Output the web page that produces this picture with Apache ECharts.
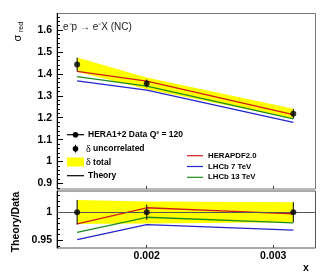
<!DOCTYPE html>
<html><head><meta charset="utf-8">
<script src="https://cdn.jsdelivr.net/npm/echarts@6/dist/echarts.min.js"></script>
<style>html,body{margin:0;padding:0;background:#fff}#c{width:332px;height:276px}</style>
</head><body><div id="c"></div>
<script>
// ---- data ----
const xValues = [0.0016, 0.002, 0.0032];
const dataSigma = [1.443, 1.356, 1.218];
const uncorrLow = [1.411, 1.338, 1.196];
const uncorrHigh = [1.474, 1.374, 1.240];
const totalLow = [1.410, 1.330, 1.196];
const totalHigh = [1.474, 1.383, 1.241];
const herapdf = [1.411, 1.367, 1.214];
const lhcb7 = [1.368, 1.326, 1.179];
const lhcb13 = [1.387, 1.344, 1.195];

const ratioData = [1, 1, 1];
const ratioUncLow = [0.978, 0.9865, 0.982];
const ratioUncHigh = [1.022, 1.0135, 1.018];
const ratioTotLow = [0.979, 0.980, 0.982];
const ratioTotHigh = [1.022, 1.019, 1.018];
const ratioHerapdf = [0.979, 1.008, 0.997];
const ratioLhcb7 = [0.951, 0.978, 0.968];
const ratioLhcb13 = [0.964, 0.991, 0.981];

const xTicks = [0.002, 0.003];
const xTickLabels = ['0.002', '0.003'];
const topTicks = [0.9, 1, 1.1, 1.2, 1.3, 1.4, 1.5, 1.6];
const topMinor = [0.88,0.9,0.92,0.94,0.96,0.98,1,1.02,1.04,1.06,1.08,1.1,1.12,1.14,1.16,1.18,1.2,1.22,1.24,1.26,1.28,1.3,1.32,1.34,1.36,1.38,1.4,1.42,1.44,1.46,1.48,1.5,1.52,1.54,1.56,1.58,1.6,1.62,1.64,1.66];
const ratioTicks = [0.95, 1];
const ratioMinor = [0.94,0.95,0.96,0.97,0.98,0.99,1,1.01,1.02,1.03];

// ---- helpers ----
const lx = xValues.map(v => Math.log10(v));
const lxTicks = xTicks.map(v => Math.log10(v));
const FONT = 'Liberation Sans, Arial, sans-serif';
const RED = '#d01c1c', BLUE = '#2424cc', GREEN = '#1e8c1e', YEL = '#ffff00';

function pairs(ys) { return lx.map((x, i) => [x, ys[i]]); }
function band(low, high, xi, yi) {
  return {
    type: 'custom', xAxisIndex: xi, yAxisIndex: yi, silent: true, z: 1,
    data: lx.map((x, i) => [x, low[i], high[i]]),
    encode: { x: 0, y: [1, 2] },
    renderItem: function (params, api) {
      if (params.dataIndex !== 0) return;
      const pts = [];
      for (let i = 0; i < lx.length; i++) pts.push(api.coord([lx[i], high[i]]));
      for (let i = lx.length - 1; i >= 0; i--) pts.push(api.coord([lx[i], low[i]]));
      return { type: 'polygon', shape: { points: pts }, style: { fill: YEL } };
    }
  };
}
function errBars(low, high, xi, yi) {
  return {
    type: 'custom', xAxisIndex: xi, yAxisIndex: yi, silent: true, z: 5,
    data: lx.map((x, i) => [x, low[i], high[i]]),
    encode: { x: 0, y: [1, 2] },
    renderItem: function (params, api) {
      const a = api.coord([api.value(0), api.value(1)]);
      const b = api.coord([api.value(0), api.value(2)]);
      return { type: 'line', shape: { x1: a[0], y1: a[1], x2: b[0], y2: b[1] }, style: { stroke: '#000', lineWidth: 1 } };
    }
  };
}
function theory(ys, color, xi, yi) {
  return { type: 'line', xAxisIndex: xi, yAxisIndex: yi, data: pairs(ys), symbol: 'none', silent: true, z: 3,
    lineStyle: { color: color, width: 1.3 } };
}
function pts(ys, xi, yi) {
  return { type: 'scatter', xAxisIndex: xi, yAxisIndex: yi, data: pairs(ys), symbolSize: 6, silent: true, z: 6,
    itemStyle: { color: '#000' } };
}

const xMin = Math.log10(0.0015), xMax = Math.log10(0.003436);
function xAxis(grid, labels) {
  return {
    type: 'value', gridIndex: grid, min: xMin, max: xMax,
    axisLine: { show: false }, splitLine: { show: false },
    axisTick: { show: true, inside: true, length: 3, customValues: lxTicks, lineStyle: { color: '#444' } },
    axisLabel: { show: labels, customValues: lxTicks, margin: 3, color: '#000', fontFamily: FONT, fontWeight: 'bold', fontSize: 10.5,
      formatter: function (v) { let k = 0; lxTicks.forEach((t, i) => { if (Math.abs(t - v) < Math.abs(lxTicks[k] - v)) k = i; }); return xTickLabels[k]; } }
  };
}
function yAxis(grid, min, max, major, labels) {
  return {
    type: 'value', gridIndex: grid, min: min, max: max,
    axisLine: { show: true, lineStyle: { color: '#000', width: 1 } }, splitLine: { show: false },
    axisTick: { show: true, inside: true, length: 6, customValues: major, lineStyle: { color: '#000' } },
    axisLabel: { show: labels, customValues: major, margin: 5, color: '#000', fontFamily: FONT, fontWeight: 'bold', fontSize: 10.5,
      formatter: v => String(+v.toFixed(2)) }
  };
}
function yMinor(grid, min, max, minor) {
  return {
    type: 'value', gridIndex: grid, min: min, max: max, position: 'left',
    axisLine: { show: false }, splitLine: { show: false }, axisLabel: { show: false },
    axisTick: { show: true, inside: true, length: 3, customValues: minor, lineStyle: { color: '#000' } }
  };
}

function txt(x, y, t, font, extra) {
  const el = { type: 'text', x: x, y: y, silent: true,
    style: { text: t, fill: '#000', font: font || ('bold 8.5px ' + FONT), verticalAlign: 'middle' } };
  if (extra) {
    if (extra.rotation !== undefined) el.rotation = extra.rotation;
    if (extra.align) el.style.align = extra.align;
    if (extra.fill) el.style.fill = extra.fill;
    if (extra.rich) el.style.rich = extra.rich;
  }
  return el;
}
const hline = (x1, x2, y, c) => ({ type: 'line', silent: true, shape: { x1: x1, y1: y, x2: x2, y2: y }, style: { stroke: c, lineWidth: 1.2 } });
const deltaRich = { d: { fontFamily: 'Liberation Serif, serif', fontWeight: 'normal', fontSize: 10 } };

const option = {
  animation: false,
  backgroundColor: '#fff',
  grid: [
    { left: 57, top: 13.5, right: 16.5, height: 175.5, show: true, borderColor: '#777', borderWidth: 1, backgroundColor: 'transparent' },
    { left: 57, top: 191, right: 16.5, height: 57, show: true, borderColor: '#555', borderWidth: 1, backgroundColor: 'transparent' }
  ],
  xAxis: [xAxis(0, false), xAxis(1, true)],
  yAxis: [
    yAxis(0, 0.875, 1.675, topTicks, true),
    yMinor(0, 0.875, 1.675, topMinor),
    yAxis(1, 0.936, 1.038, ratioTicks, true),
    yMinor(1, 0.936, 1.038, ratioMinor)
  ],
  series: [
    band(totalLow, totalHigh, 0, 0),
    theory(herapdf, RED, 0, 0),
    theory(lhcb7, BLUE, 0, 0),
    theory(lhcb13, GREEN, 0, 0),
    errBars(uncorrLow, uncorrHigh, 0, 0),
    pts(dataSigma, 0, 0),

    band(ratioTotLow, ratioTotHigh, 1, 2),
    {
      type: 'line', xAxisIndex: 1, yAxisIndex: 2, data: [], silent: true, z: 2,
      markLine: { silent: true, symbol: 'none', label: { show: false }, animation: false,
        lineStyle: { color: '#555', width: 1, type: 'solid' }, data: [{ yAxis: 1 }] }
    },
    theory(ratioHerapdf, RED, 1, 2),
    theory(ratioLhcb7, BLUE, 1, 2),
    theory(ratioLhcb13, GREEN, 1, 2),
    errBars(ratioUncLow, ratioUncHigh, 1, 2),
    pts(ratioData, 1, 2)
  ],
  graphic: [
    // title
    txt(63, 27, 'e\u207Bp \u2192 e\u207BX (NC)', '10px ' + FONT, { fill: '#222' }),
    // y-axis titles
    txt(18, 38, '\u03C3', '11px ' + FONT, { rotation: Math.PI / 2, align: 'center' }),
    txt(21, 27, 'red', '7px ' + FONT, { rotation: Math.PI / 2, align: 'center' }),
    txt(16, 222, 'Theory/Data', 'bold 10.5px ' + FONT, { rotation: Math.PI / 2, align: 'center' }),
    // x-axis title
    txt(306, 268, 'x', 'bold 10.5px ' + FONT, { align: 'center' }),
    // left legend
    hline(67, 84, 134.7, '#000'),
    { type: 'circle', silent: true, shape: { cx: 75.5, cy: 134.7, r: 2.8 }, style: { fill: '#000' } },
    txt(88, 135, 'HERA1+2 Data Q\u00B2 = 120'),
    { type: 'line', silent: true, shape: { x1: 75.5, y1: 144.8, x2: 75.5, y2: 152.6 }, style: { stroke: '#000', lineWidth: 1 } },
    { type: 'circle', silent: true, shape: { cx: 75.5, cy: 148.7, r: 2.8 }, style: { fill: '#000' } },
    txt(86, 149, '{d|\u03B4} uncorrelated', null, { rich: deltaRich }),
    { type: 'rect', silent: true, shape: { x: 67, y: 157.5, width: 17, height: 9 }, style: { fill: YEL } },
    txt(86, 162.3, '{d|\u03B4} total', null, { rich: deltaRich }),
    hline(67, 84, 175.7, '#000'),
    txt(88, 176, 'Theory'),
    // right legend
    hline(187, 203, 155.7, RED),
    txt(208, 155.7, 'HERAPDF2.0', 'bold 7.8px ' + FONT),
    hline(187, 203, 166.5, BLUE),
    txt(208, 166.5, 'LHCb 7 TeV', 'bold 7.8px ' + FONT),
    hline(187, 203, 177.3, GREEN),
    txt(208, 177.3, 'LHCb 13 TeV', 'bold 7.8px ' + FONT)
  ]
};

const chart = echarts.init(document.getElementById('c'), null, { renderer: 'canvas' });
chart.setOption(option);
</script>
</body></html>
